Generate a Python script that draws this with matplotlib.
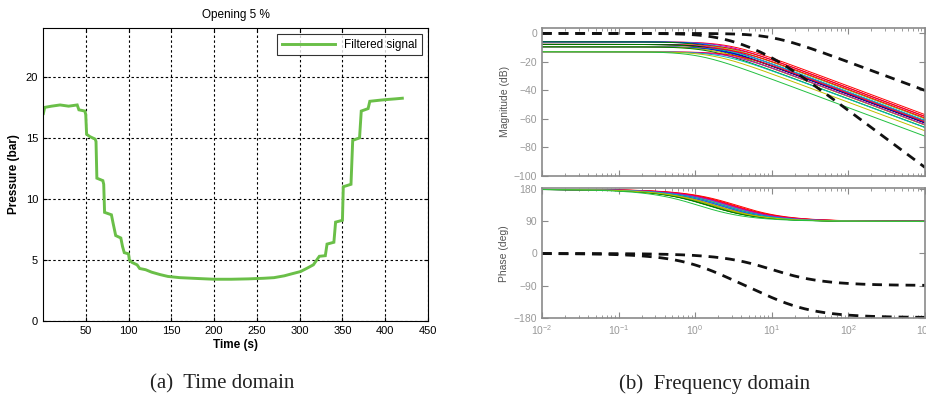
"""
Pressure response at 5 % valve opening (time domain) and the Bode plots
of the identified models against the reference filters (frequency domain).
Output -> out.png
"""
import numpy as np
import matplotlib
matplotlib.use("Agg")
import matplotlib.pyplot as plt

# ---- time domain: filtered pressure signal, breakpoints (s, bar) ----
time_s = [0.5, 2, 10, 20, 30, 40, 42, 49, 50, 51, 55, 61, 62, 63, 70, 71,
          72, 80, 82, 85, 91, 93, 95, 100, 101, 104, 110, 113, 120, 127,
          137, 146, 160, 181, 200, 220, 240, 258, 270, 282, 290, 301, 308,
          316, 320, 323, 330, 332, 340, 342, 350, 351, 360, 362, 370, 372,
          380, 382, 395, 403, 412, 420]
pressure_bar = [17.0, 17.5, 17.6, 17.7, 17.6, 17.7, 17.3, 17.2, 16.9, 15.3,
                15.1, 14.9, 14.7, 11.7, 11.5, 11.2, 8.9, 8.7, 8.0, 7.0, 6.8,
                6.1, 5.6, 5.5, 5.0, 4.8, 4.6, 4.3, 4.2, 4.0, 3.8, 3.65, 3.55,
                3.48, 3.42, 3.42, 3.45, 3.5, 3.55, 3.7, 3.85, 4.05, 4.3, 4.6,
                5.0, 5.3, 5.35, 6.3, 6.45, 8.1, 8.25, 11.0, 11.2, 14.8, 15.0,
                17.2, 17.4, 18.0, 18.1, 18.15, 18.2, 18.25]

# ---- frequency domain: identified models  -K / (s/wc + 1) ----
model_gain_db = [-5.9, -5.9, -5.9, -5.9, -5.9,
                 -7.7, -7.7, -7.7, -7.7, -7.7,
                 -9.4, -9.4, -9.4, -9.4, -9.4,
                 -12.9, -12.9, -12.9, -12.9, -12.9]
model_wc = [2.8, 2.4, 2.0, 1.7, 1.45,
            3.0, 2.5, 2.1, 1.75, 1.5,
            3.2, 2.6, 2.2, 1.8, 1.5,
            3.5, 2.8, 2.2, 1.7, 1.1]
model_color = ["r", "m", "c", "b", "#007f00",
               "r", "y", "m", "k", "#007f00",
               "r", "c", "b", "y", "#007f00",
               "r", "m", "c", "y", "#22c040"]
# reference filters: poles (rad/s), unity DC gain
ref_poles = [[10.0], [2.0, 10.0]]

w = np.logspace(-2, 3, 500)
GRAY = "#8a8a8a"

fig = plt.figure(figsize=(9.26, 3.98), dpi=100)
plt.rcParams["font.family"] = ["Liberation Sans", "DejaVu Sans"]

# ---- (a) time domain ----
ax = fig.add_axes([0.0464, 0.1935, 0.4158, 0.736])
ax.plot(time_s, pressure_bar, color="#6abf48", lw=2.1,
        solid_joinstyle="miter", label="Filtered signal")
ax.set_xlim(0, 450); ax.set_ylim(0, 24)
ax.set_xticks(range(50, 451, 50)); ax.set_yticks(range(0, 21, 5))
ax.grid(True, color="black", ls=(0, (2.2, 2.2)), lw=0.8)
ax.tick_params(direction="in", top=True, right=True, labelsize=8, length=3)
ax.set_title("Opening 5 %", fontsize=8.5, pad=7)
ax.set_xlabel("Time (s)", fontsize=8.5, fontweight="bold", labelpad=2)
ax.set_ylabel("Pressure (bar)", fontsize=8.5, fontweight="bold", labelpad=4)
leg = ax.legend(loc="upper right", fontsize=8.5, fancybox=False,
                handlelength=4.5, borderaxespad=0.5)
leg.get_frame().set_edgecolor("black"); leg.get_frame().set_linewidth(0.8)

# ---- (b) frequency domain ----
axm = fig.add_axes([0.5853, 0.5578, 0.4136, 0.3726])
axp = fig.add_axes([0.5853, 0.2003, 0.4136, 0.3266])

for k, wc, c in zip(model_gain_db, model_wc, model_color):
    h = -(10 ** (k / 20)) / (1 + 1j * w / wc)
    axm.plot(w, 20 * np.log10(np.abs(h)), color=c, lw=0.7)
    axp.plot(w, np.degrees(np.unwrap(np.angle(h))) % 360, color=c, lw=0.7)

for poles in ref_poles:
    h = np.ones_like(w, dtype=complex)
    for p in poles:
        h = h / (1 + 1j * w / p)
    axm.plot(w, 20 * np.log10(np.abs(h)), color="#111111", lw=2.0,
             ls=(0, (3.5, 2.5)))
    axp.plot(w, np.degrees(np.unwrap(np.angle(h))), color="#111111", lw=2.0,
             ls=(0, (3.5, 2.5)))

for a in (axm, axp):
    a.set_xscale("log")
    a.set_xlim(1e-2, 1e3)
    for s in a.spines.values():
        s.set_color(GRAY); s.set_linewidth(1.2)
    a.tick_params(which="both", direction="in", top=True, right=True,
                  colors=GRAY, labelsize=7.5, labelcolor="#999999")
    a.tick_params(which="major", length=4)
    a.tick_params(which="minor", length=2)

axm.set_ylim(-100, 4)
axm.set_yticks(range(-100, 1, 20))
axm.tick_params(labelbottom=False)
axm.set_ylabel("Magnitude (dB)", fontsize=7.5, color="#555555", labelpad=3)

axp.set_ylim(-182, 183)
axp.set_yticks([-180, -90, 0, 90, 180])
axp.set_ylabel("Phase (deg)", fontsize=7.5, color="#555555", labelpad=3)

# captions
cap = dict(fontsize=15, family=["Liberation Serif", "DejaVu Serif"],
           color="#222222", ha="center", va="center")
fig.text(0.24, 0.036, "(a)  Time domain", **cap)
fig.text(0.772, 0.036, "(b)  Frequency domain", **cap)

fig.savefig("out.png", dpi=100)
